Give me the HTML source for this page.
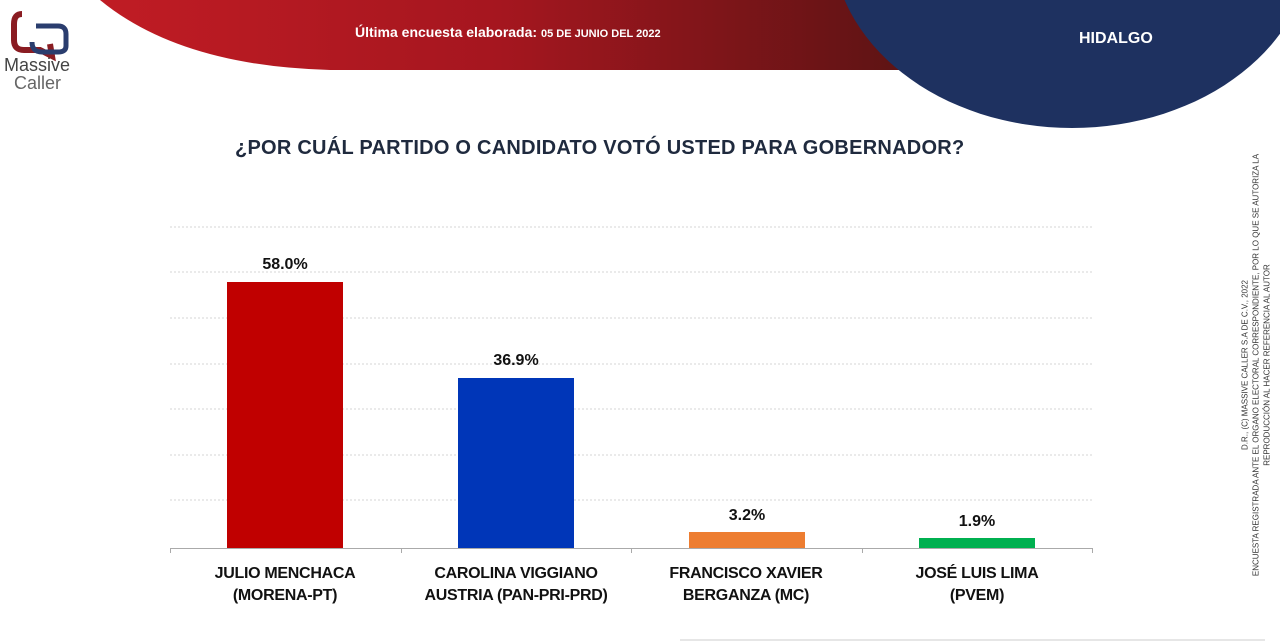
<!DOCTYPE html>
<html><head><meta charset="utf-8"><style>
body{margin:0;width:1280px;height:642px;overflow:hidden;background:#fff;font-family:"Liberation Sans",sans-serif;position:relative}
.t{position:absolute;white-space:nowrap}
.lab{position:absolute;width:230px;text-align:center;font-weight:bold;font-size:16px;color:#111;line-height:22px;letter-spacing:-0.3px}
.val{position:absolute;width:116px;text-align:center;font-weight:bold;font-size:16px;color:#111}
</style></head><body>
<svg width="1280" height="642" style="position:absolute;left:0;top:0">
<defs>
<linearGradient id="rg" x1="0" x2="1" y1="0" y2="0"><stop offset="0" stop-color="#c01c24"/><stop offset="0.5" stop-color="#a5161f"/><stop offset="1" stop-color="#5e1414"/></linearGradient>
</defs>
<path d="M100,0 Q180,66 330,70 L900,70 L900,0 Z" fill="url(#rg)"/>
<ellipse cx="1072" cy="-60" rx="240" ry="188" fill="#1e3160"/>
<path d="M22,14 Q14,14 14,24 L14,40 Q14,50 24,50 L40,50 L52,56 L50,44" fill="none" stroke="#8a1c22" stroke-width="6"/>
<path d="M36,26 L58,26 Q66,26 66,34 L66,46 Q66,52 58,52 L42,52 Q32,52 32,42" fill="none" stroke="#2a3d6e" stroke-width="5"/>
<g stroke="#d6d6d6" stroke-width="1" stroke-dasharray="2,2">
<line x1="170" y1="227" x2="1093" y2="227"/><line x1="170" y1="272" x2="1093" y2="272"/>
<line x1="170" y1="318" x2="1093" y2="318"/><line x1="170" y1="364" x2="1093" y2="364"/>
<line x1="170" y1="409" x2="1093" y2="409"/><line x1="170" y1="455" x2="1093" y2="455"/>
<line x1="170" y1="500" x2="1093" y2="500"/>
</g>
<rect x="227" y="282" width="116" height="266" fill="#c00000"/>
<rect x="458" y="378" width="116" height="170" fill="#0036b8"/>
<rect x="689" y="532" width="116" height="16" fill="#ed7d31"/>
<rect x="919" y="538" width="116" height="10" fill="#00b050"/>
<g stroke="#aaa" stroke-width="1">
<line x1="170" y1="548.5" x2="1093" y2="548.5"/>
<line x1="170.5" y1="548" x2="170.5" y2="553"/><line x1="401.5" y1="548" x2="401.5" y2="553"/>
<line x1="631.5" y1="548" x2="631.5" y2="553"/><line x1="862.5" y1="548" x2="862.5" y2="553"/>
<line x1="1092.5" y1="548" x2="1092.5" y2="553"/>
</g>
<line x1="680" y1="640" x2="1265" y2="640" stroke="#ccc" stroke-width="1"/>
</svg>
<div class="t" style="left:4px;top:56px;font-size:18px;color:#444;line-height:18px">Massive</div>
<div class="t" style="left:14px;top:74px;font-size:18px;color:#666;line-height:18px">Caller</div>
<div class="t" style="left:355px;top:24px;color:#fff;font-size:14px;font-weight:bold">Última encuesta elaborada: <span style="font-size:11px">05 DE JUNIO DEL 2022</span></div>
<div class="t" style="left:1079px;top:30px;color:#fff;font-size:16px;font-weight:bold">HIDALGO</div>
<div class="t" style="left:235px;top:137px;color:#1f2a3e;font-size:20px;font-weight:bold;letter-spacing:0.25px">¿POR CUÁL PARTIDO O CANDIDATO VOTÓ USTED PARA GOBERNADOR?</div>
<div class="val" style="left:227px;top:256px">58.0%</div>
<div class="val" style="left:458px;top:352px">36.9%</div>
<div class="val" style="left:689px;top:507px">3.2%</div>
<div class="val" style="left:919px;top:513px">1.9%</div>
<div class="lab" style="left:170px;top:563px">JULIO MENCHACA<br>(MORENA-PT)</div>
<div class="lab" style="left:401px;top:563px">CAROLINA VIGGIANO<br>AUSTRIA (PAN-PRI-PRD)</div>
<div class="lab" style="left:631px;top:563px">FRANCISCO XAVIER<br>BERGANZA (MC)</div>
<div class="lab" style="left:862px;top:563px">JOSÉ LUIS LIMA<br>(PVEM)</div>
<div class="t" style="left:1256px;top:365px;transform:translate(-50%,-50%) rotate(-90deg);font-size:8px;color:#333;text-align:center;line-height:11px">D.R., (C) MASSIVE CALLER S.A DE C.V., 2022<br>ENCUESTA REGISTRADA ANTE EL ORGANO ELECTORAL CORRESPONDIENTE, POR LO QUE SE AUTORIZA LA<br>REPRODUCCIÓN AL HACER REFERENCIA AL AUTOR</div>
</body></html>
